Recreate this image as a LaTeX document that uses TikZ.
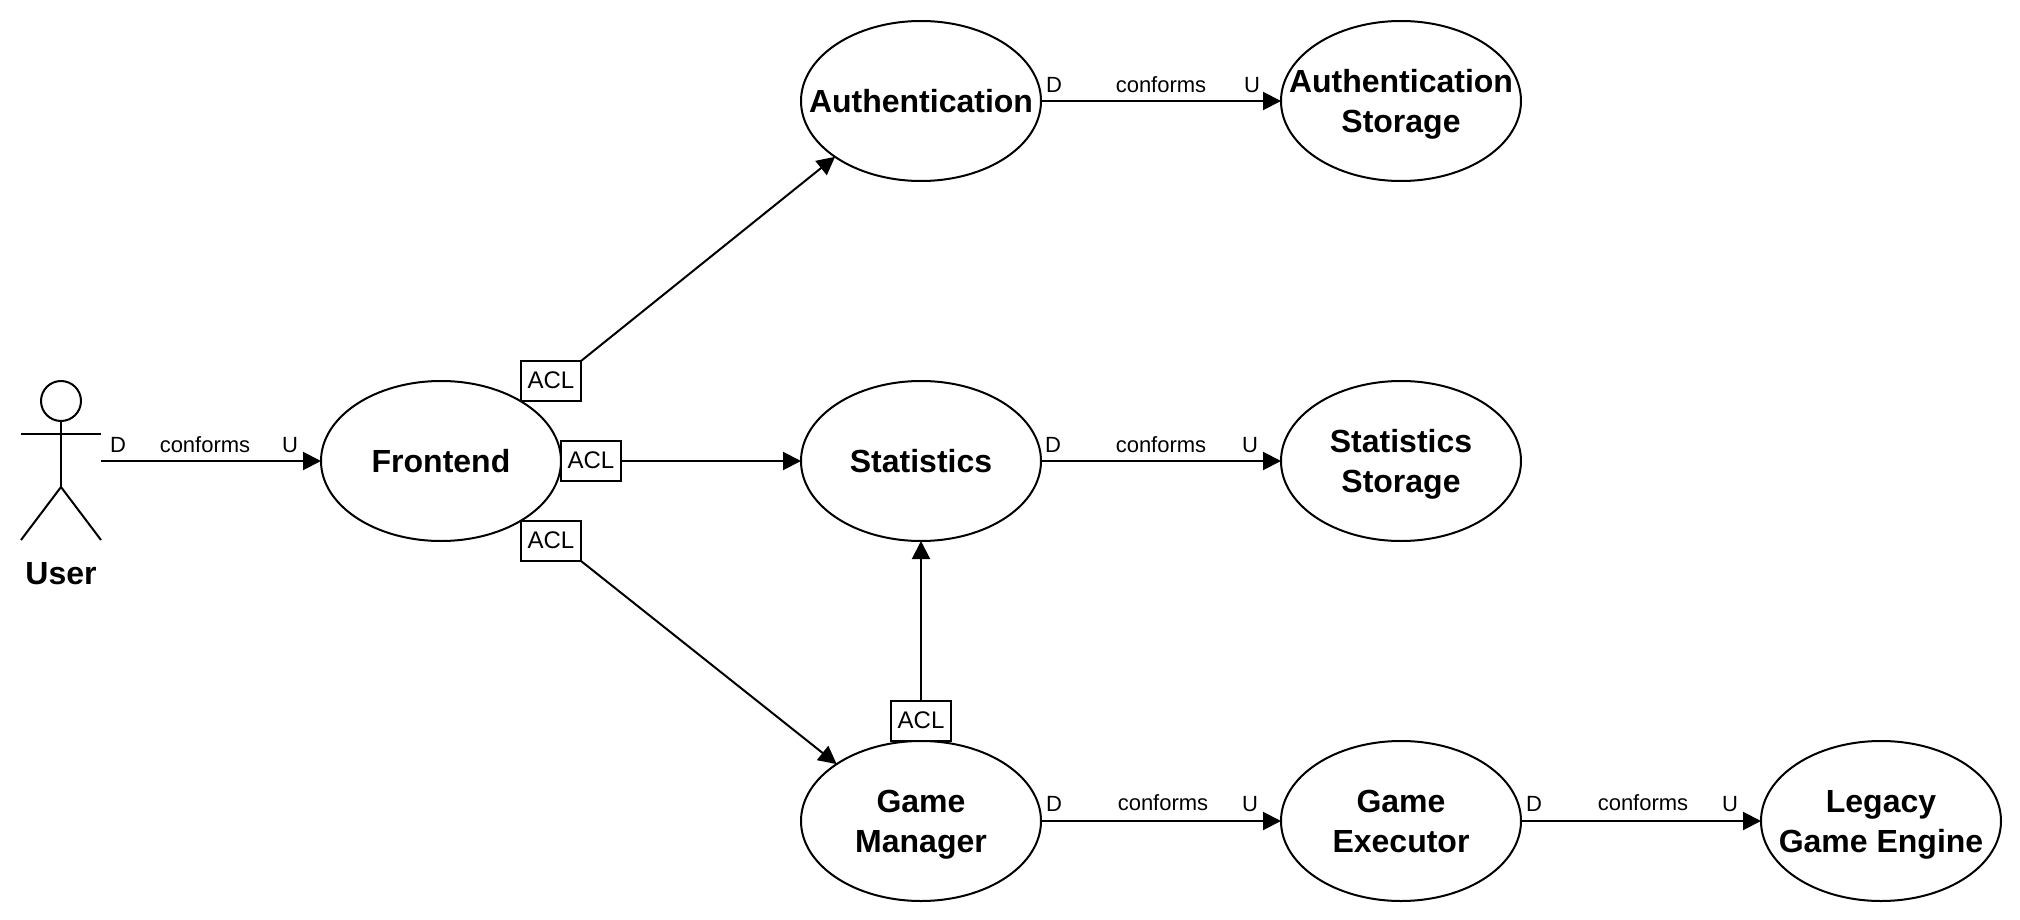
\documentclass[tikz,border=0pt]{standalone}
\usepackage{fontspec}
\setmainfont{Liberation Sans}
\usetikzlibrary{shapes.geometric, arrows.meta}

\tikzset{
    context/.style={draw, ellipse, fill=white, line width=1pt, minimum width=120pt, minimum height=80pt, inner sep=-30pt, outer sep=0pt, align=center, text depth=0pt, font=\fontsize{16}{20}\selectfont\bfseries},
    aclbox/.style={draw, rectangle, fill=white, line width=1pt, minimum width=30pt, minimum height=20pt, inner sep=0pt, outer sep=0pt, font=\fontsize{12}{14}\selectfont},
    relation/.style={line width=1pt, -{Triangle[width=9pt,length=9pt]}},
    stick/.style={line width=1pt},
    tag/.style={inner sep=0pt, font=\fontsize{11}{13}\selectfont}
}

\begin{document}
\begin{tikzpicture}[x=0.5pt, y=-0.5pt]
            \useasboundingbox (0,0) rectangle (2020,920);
            % actor
            \node[draw, circle, line width=1pt, minimum size=20pt, inner sep=0pt, outer sep=0pt] (userhead) at (61,401) {};
            \coordinate (armleft) at (21,434);
            \coordinate (armright) at (101,434);
            \coordinate (userhip) at (61,487);
            \coordinate (footleft) at (21,540);
            \coordinate (footright) at (101,540);
            \coordinate (userhand) at (101,461);
            \draw[stick] (userhead.south) -- (userhip);
            \draw[stick] (armleft) -- (armright);
            \draw[stick] (footleft) -- (userhip) -- (footright);
            \node[font=\fontsize{16}{20}\selectfont\bfseries] (user) at (61,574) {User};

            % contexts
            \node[context] (frontend) at (441,461) {Frontend};
            \node[context] (auth) at (921,101) {Authentication};
            \node[context] (authstore) at (1401,101) {Authentication\\Storage};
            \node[context] (stats) at (921,461) {Statistics};
            \node[context] (statstore) at (1401,461) {Statistics\\Storage};
            \node[context] (manager) at (921,821) {Game\\Manager};
            \node[context] (executor) at (1401,821) {Game\\Executor};
            \node[context] (legacy) at (1881,821) {Legacy\\Game Engine};

            % anti corruption layers
            \node[aclbox] (acltop) at (551,381) {\raisebox{1pt}{ACL}};
            \node[aclbox] (aclmid) at (591,461) {\raisebox{1pt}{ACL}};
            \node[aclbox] (aclbot) at (551,541) {\raisebox{1pt}{ACL}};
            \node[aclbox] (aclgame) at (921,721) {\raisebox{1pt}{ACL}};

            % relations
            \draw[relation] (userhand) -- (frontend.west);
            \draw[relation] (acltop.north east) -- (auth.213.7);
            \draw[relation] (aclmid.east) -- (stats.west);
            \draw[relation] (aclbot.south east) -- (manager.146.3);
            \draw[relation] (aclgame.north) -- (stats.south);
            \draw[relation] (auth.east) -- (authstore.west);
            \draw[relation] (stats.east) -- (statstore.west);
            \draw[relation] (manager.east) -- (executor.west);
            \draw[relation] (executor.east) -- (legacy.west);

            % labels
            \node[tag] (d1) at (118,445) {D};
            \node[tag] (c1) at (205,445) {conforms};
            \node[tag] (u1) at (290,445) {U};
            \node[tag] (d2) at (1054,85) {D};
            \node[tag] (c2) at (1161,85) {conforms};
            \node[tag] (u2) at (1252,85) {U};
            \node[tag] (d3) at (1053,445) {D};
            \node[tag] (c3) at (1161,445) {conforms};
            \node[tag] (u3) at (1250,445) {U};
            \node[tag] (d4) at (1054,804) {D};
            \node[tag] (c4) at (1163,803) {conforms};
            \node[tag] (u4) at (1250,804) {U};
            \node[tag] (d5) at (1534,804) {D};
            \node[tag] (c5) at (1643,803) {conforms};
            \node[tag] (u5) at (1730,804) {U};
        \end{tikzpicture}
\end{document}
